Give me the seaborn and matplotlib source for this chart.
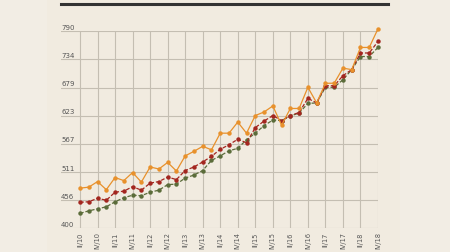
import matplotlib
matplotlib.use("Agg")
import matplotlib.pyplot as plt
import seaborn as sns
import pandas as pd
import numpy as np
from matplotlib.lines import Line2D
from matplotlib.patches import Rectangle
from matplotlib.transforms import blended_transform_factory

# ---- data ----
quarters = []
for yr in range(10, 19):
    for q in ["I", "II", "III", "IV"]:
        quarters.append(f"{q}/{yr}")
quarters = quarters[1:]  # II/10 .. IV/18

series_orange = [479, 481, 492, 476, 500, 494, 510, 491, 521, 517, 530, 513, 543, 552,
                 562, 555, 588, 588, 610, 588, 623, 630, 642, 604, 637, 637, 679, 648,
                 687, 687, 717, 714, 758, 758, 795]
series_red = [451, 452, 459, 455, 471, 473, 482, 475, 489, 492, 501, 496, 514, 521,
              531, 542, 556, 565, 576, 569, 599, 612, 623, 613, 623, 629, 657, 648,
              682, 682, 702, 714, 747, 747, 770]
series_green = [429, 434, 438, 442, 452, 460, 465, 464, 471, 475, 486, 487, 499, 505,
                514, 534, 543, 553, 558, 575, 588, 603, 614, 613, 622, 628, 647, 648,
                679, 679, 694, 714, 740, 740, 758]

y_ticks = [400, 455.71, 511.43, 567.14, 622.86, 678.57, 734.29, 790]
y_tick_labels = ["400", "456", "511", "567", "623", "679", "734", "790"]

colors = {"orange": "#e8912c", "red": "#a3261f", "green": "#5b6c3a"}

n = len(quarters)
df = pd.DataFrame({
    "pos": list(range(n)) * 3,
    "value": series_orange + series_red + series_green,
    "series": ["orange"] * n + ["red"] * n + ["green"] * n,
})

# ---- figure ----
W, H = 450, 253
fig = plt.figure(figsize=(W / 100, H / 100), dpi=100)
fig.patch.set_facecolor("#f2ede4")
fig.add_artist(Rectangle((47 / W, 0), (400 - 47) / W, 1, transform=fig.transFigure,
                         facecolor="#f1ebe0", edgecolor="none", zorder=0))

left_px, right_px, top_px, bottom_px = 61, 378, 32.3, 229
ax = fig.add_axes([left_px / W, (H - bottom_px) / H, (right_px - left_px) / W,
                   (bottom_px - top_px) / H])
ax.set_facecolor("none")

styles = {"orange": (0, ()), "red": (0, (3, 1.5)), "green": (0, (3, 1.5))}
for name in ["green", "red", "orange"]:
    sub = df[df["series"] == name]
    sns.lineplot(data=sub, x="pos", y="value", ax=ax, color=colors[name],
                 linewidth=0.9, marker="o", markersize=3.2, markeredgewidth=0,
                 linestyle=styles[name], clip_on=False, legend=False, zorder=3)

px_per_q = (right_px - 80) / (n - 1)
ax.set_xlim(-(80 - left_px) / px_per_q, n - 1)
ax.set_ylim(400, 790)

for s in ax.spines.values():
    s.set_visible(False)

ax.set_yticks(y_ticks)
ax.set_yticklabels([])
ax.set_xticks(list(range(0, n, 2)))
ax.set_xticklabels([quarters[i] for i in range(0, n, 2)], rotation=90,
                   fontsize=4.8, color="#555555", va="top")
ax.tick_params(length=0, pad=2.5)
ax.tick_params(axis="y", length=0)
ax.grid(True, color="#c4beb2", linewidth=0.8)
ax.set_axisbelow(True)
ax.set_xlabel("")
ax.set_ylabel("")

trans = blended_transform_factory(ax.transAxes, ax.transData)
for yv, lab in zip(y_ticks, y_tick_labels):
    ax.text(0.0, yv + 2.5, lab, transform=trans, ha="left", va="bottom",
            fontsize=5, color="#555555")

fig.add_artist(Line2D([61 / W, 388 / W], [(H - 5) / H] * 2, transform=fig.transFigure,
                      color="#333333", linewidth=2.2))

fig.savefig("out.png", dpi=100, facecolor=fig.get_facecolor())
